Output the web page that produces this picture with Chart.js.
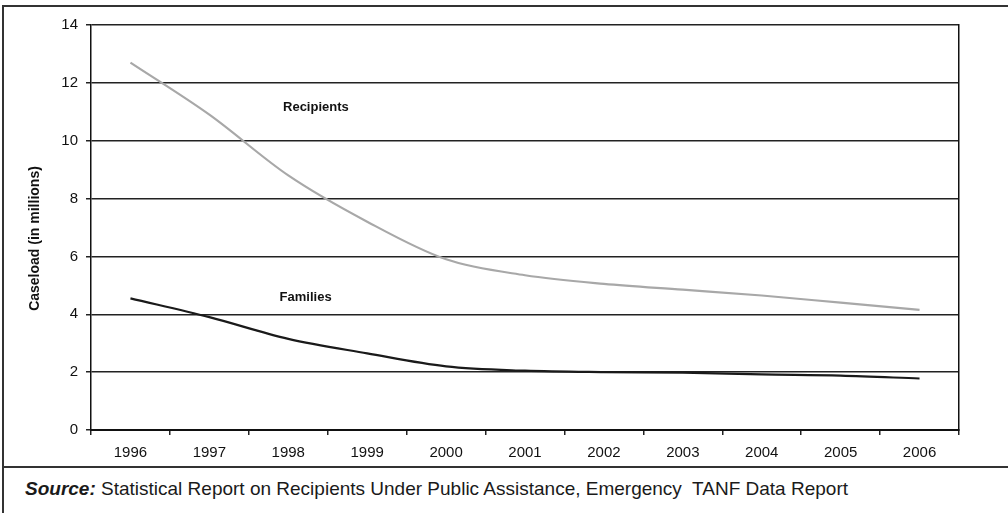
<!DOCTYPE html>
<html>
<head>
<meta charset="utf-8">
<script src="https://cdn.jsdelivr.net/npm/chart.js@4.4.1/dist/chart.umd.min.js"></script>
<style>
  html, body { margin: 0; padding: 0; background: #fff; }
  body { width: 1008px; height: 513px; position: relative; overflow: hidden; font-family: "Liberation Sans", Arial, sans-serif; }
  #topline { position: absolute; left: 2px; top: 5px; width: 1006px; height: 2px; background: #333; }
  #leftline { position: absolute; left: 2px; top: 5px; width: 2px; height: 508px; background: #333; }
  #midline { position: absolute; left: 2px; top: 466px; width: 1006px; height: 2px; background: #333; }
  #wrap { position: absolute; left: 0; top: 8px; width: 1008px; height: 458px; }
  #source { position: absolute; left: 25px; top: 478px; font-size: 19px; color: #1a1a1a; white-space: pre; }
  #source b { font-style: italic; }
</style>
</head>
<body>
<div id="topline"></div>
<div id="leftline"></div>
<div id="midline"></div>
<div id="wrap"><canvas id="c"></canvas></div>
<div id="source"><b>Source:</b> <span id="srctext"></span></div>
<script>
const years = ['1996','1997','1998','1999','2000','2001','2002','2003','2004','2005','2006'];
const recipients = [12.7, 10.9, 8.8, 7.2, 5.9, 5.35, 5.05, 4.85, 4.65, 4.4, 4.15];
const families = [4.55, 3.9, 3.15, 2.65, 2.2, 2.05, 2.0, 1.98, 1.92, 1.88, 1.78];
const yTicks = [0, 2, 4, 6, 8, 10, 12, 14];
const yTitle = 'Caseload (in millions)';
const sourceText = 'Statistical Report on Recipients Under Public Assistance, Emergency  TANF Data Report';
const seriesLabels = [
  { text: 'Recipients', x: 2.35, y: 11.15 },
  { text: 'Families', x: 2.22, y: 4.6 }
];

document.getElementById('srctext').textContent = sourceText;

const FONT = '"Liberation Sans", Arial, sans-serif';

const labelPlugin = {
  id: 'seriesLabels',
  afterDatasetsDraw(chart) {
    const ctx = chart.ctx;
    const xs = chart.scales.x, ys = chart.scales.y;
    ctx.save();
    ctx.font = 'bold 13px ' + FONT;
    ctx.fillStyle = '#111';
    ctx.textAlign = 'center';
    ctx.textBaseline = 'middle';
    seriesLabels.forEach(l => {
      ctx.fillText(l.text, xs.getPixelForValue(l.x), ys.getPixelForValue(l.y));
    });
    // y-axis title, slightly below the vertical centre as in the original
    const ca = chart.chartArea;
    ctx.translate(35, (ca.top + ca.bottom) / 2 + 11);
    ctx.rotate(-Math.PI / 2);
    ctx.font = 'bold 14px ' + FONT;
    ctx.fillText(yTitle, 0, 0);
    ctx.restore();
  }
};

new Chart(document.getElementById('c'), {
  type: 'line',
  data: {
    labels: years,
    datasets: [
      { label: 'Recipients', data: recipients, borderColor: '#a8a8a8', borderWidth: 2.2, pointRadius: 0, cubicInterpolationMode: 'monotone', fill: false },
      { label: 'Families', data: families, borderColor: '#1a1a1a', borderWidth: 2.2, pointRadius: 0, cubicInterpolationMode: 'monotone', fill: false }
    ]
  },
  options: {
    responsive: true,
    maintainAspectRatio: false,
    animation: false,
    layout: { padding: { left: 0, right: 49, top: 17, bottom: 0 } },
    plugins: { legend: { display: false }, tooltip: { enabled: false } },
    scales: {
      x: {
        offset: true,
        grid: { offset: true, drawOnChartArea: false, drawTicks: true, tickLength: 5, color: '#222', lineWidth: 1.5 },
        border: { display: true, color: '#111', width: 2 },
        ticks: { font: { family: FONT, size: 15 }, color: '#111', padding: 9, maxRotation: 0, autoSkip: false },
        afterFit(s) { s.height = 36; }
      },
      y: {
        min: 0, max: 14,
        afterBuildTicks(s) { s.ticks = yTicks.map(v => ({ value: v })); },
        grid: { drawOnChartArea: true, drawTicks: true, tickLength: 5, color: '#222', lineWidth: 1.5 },
        border: { display: true, color: '#111', width: 1.5 },
        ticks: { font: { family: FONT, size: 15 }, color: '#111', padding: 8 },
        afterFit(s) { s.width = 91; }
      },
      y2: {
        position: 'right',
        min: 0, max: 14,
        grid: { drawOnChartArea: false, drawTicks: false },
        border: { display: true, color: '#111', width: 1.5 },
        ticks: { display: false },
        afterFit(s) { s.width = 0; }
      }
    }
  },
  plugins: [labelPlugin]
});
</script>
</body>
</html>
